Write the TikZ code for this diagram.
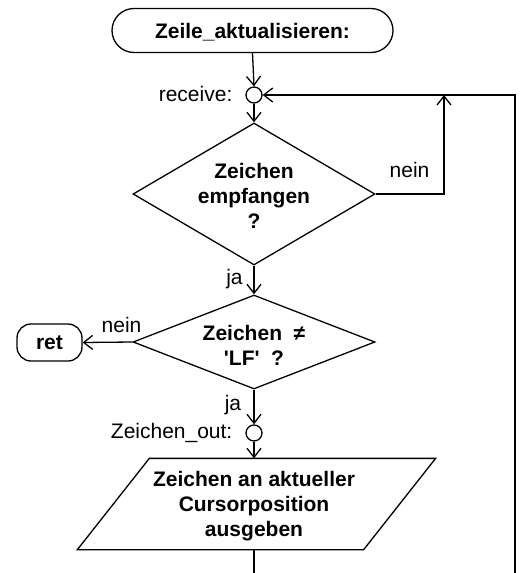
\documentclass[tikz,border=0pt]{standalone}
\usepackage{fontspec}
\setmainfont{Liberation Sans}
\usetikzlibrary{arrows.meta,shapes.geometric,calc}
\begin{document}
\begin{tikzpicture}[x=1pt,y=-1pt,line width=1.3pt,
  every node/.style={font=\fontsize{21}{25}\selectfont},
  boldtxt/.style={font=\fontsize{21}{25}\selectfont\bfseries,align=center,inner sep=0pt},
  lbl/.style={inner sep=0pt},
  arr/.style={-{Straight Barb[length=9pt,width=14pt]}},
  conn/.style={circle,draw,minimum size=16pt,inner sep=0pt},
  decision/.style={diamond,draw,inner sep=0pt,minimum width=242pt},
  term/.style={draw,font=\fontsize{21}{25}\selectfont\bfseries,inner sep=0pt}]
\useasboundingbox (0,0) rectangle (523,573);

% start terminal
\node[term,rounded corners=22pt,minimum width=281pt,minimum height=44pt,text depth=0pt] (start) at (252.5,30.5) {Zeile\_aktualisieren:};

% receive connector
\node[conn] (recv) at (254,95) {};
\node[lbl,anchor=base east] (recvl) at (233,101) {receive:};

% decision 1
\node[decision,minimum height=142pt] (d1) at (254,194) {};
\node[boldtxt] (d1t) at (254,195.5) {Zeichen\\empfangen\\?};
\node[lbl,anchor=base] (nein1) at (409.5,177) {nein};
\node[lbl,anchor=base] (ja1) at (234.5,284) {ja};

% decision 2
\node[decision,minimum height=94pt] (d2) at (254,342) {};
\node[boldtxt] (d2t) at (254,345) {Zeichen~~≠\\\textquotesingle LF\textquotesingle~~?};
\node[lbl,anchor=base] (nein2) at (121.5,332) {nein};
\node[lbl,anchor=base] (ja2) at (233,410) {ja};

% ret terminal
\node[term,rounded corners=14pt,minimum width=65pt,minimum height=37pt] (ret) at (49.5,342.5) {ret};

% Zeichen_out connector
\node[conn] (out) at (254,433) {};
\node[lbl,anchor=base east] (outl) at (233,438) {Zeichen\_out:};

% output parallelogram
\node[inner sep=0pt,minimum width=357pt,minimum height=90pt] (io) at (256.5,504) {};
\draw ($(io.north west)+(72,0)$) -- (io.north east) -- ($(io.south east)+(-72,0)$) -- (io.south west) -- cycle;
\node[boldtxt] (iot) at (254,506.5) {Zeichen an aktueller\\Cursorposition\\ausgeben};

% free ends / corners
\coordinate (bl) at (254,573);
\coordinate (br) at (515,573);
\coordinate (nj) at (444,95);

% connectors
\draw[arr] (start.south) -- (recv.north);
\draw[arr] (recv.south) -- (d1.north);
\draw[arr] (d1.south) -- (d2.north);
\draw[arr] (d1.east) -| (nj);
\draw[arr] (d2.west) -- (ret.east);
\draw[arr] (d2.south) -- (out.north);
\draw[arr] (out.south) -- (out.south |- io.north);
\draw (out |- io.south) -- (bl);
\draw[arr] (br) |- (recv.east);
\end{tikzpicture}
\end{document}
